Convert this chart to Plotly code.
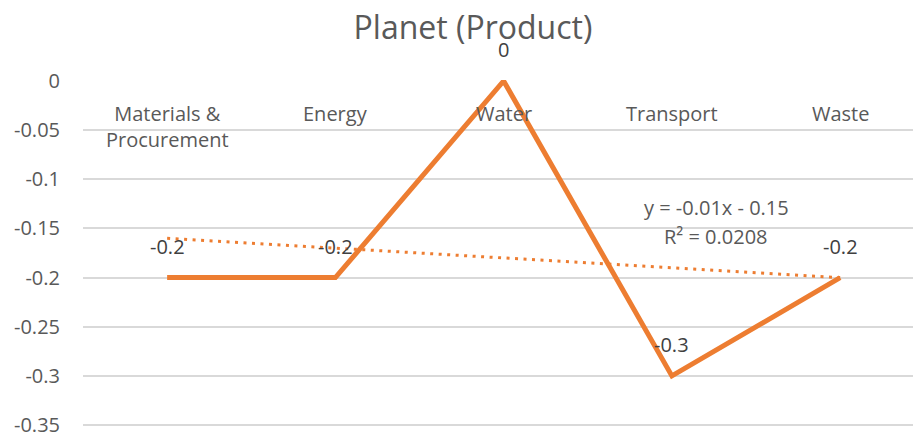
import numpy as np
import plotly.graph_objects as go

# Chart data
categories = ["Materials &<br>Procurement", "Energy", "Water", "Transport", "Waste"]
values = [-0.2, -0.2, 0, -0.3, -0.2]
y_tickvals = [0, -0.05, -0.1, -0.15, -0.2, -0.25, -0.3, -0.35]
y_ticktext = ["0", "-0.05", "-0.1", "-0.15", "-0.2", "-0.25", "-0.3", "-0.35"]

ORANGE = "#ED7D31"
GRID = "#D9D9D9"
AXIS_TXT = "#595959"
LABEL_TXT = "#404040"
FONT = "Open Sans"

xs = list(range(len(values)))

# Linear trend (Excel numbering x = 1..n)
xn = np.arange(1, len(values) + 1)
slope, intercept = np.polyfit(xn, values, 1)
fit = slope * xn + intercept
ss_res = float(np.sum((np.array(values) - fit) ** 2))
ss_tot = float(np.sum((np.array(values) - np.mean(values)) ** 2))
r2 = 1 - ss_res / ss_tot

fig = go.Figure()

fig.add_trace(go.Scatter(
    x=xs, y=fit, mode="lines",
    line=dict(color=ORANGE, width=3, dash="3px,5.5px"),
    hoverinfo="skip", showlegend=False,
))
fig.add_trace(go.Scatter(
    x=xs, y=values, mode="lines",
    line=dict(color=ORANGE, width=5),
    cliponaxis=False, showlegend=False,
))

annotations = []
# Category labels just below the zero line
for i, c in enumerate(categories):
    annotations.append(dict(
        x=i, y=0, xref="x", yref="y", text=c, showarrow=False,
        xanchor="center", yanchor="top", yshift=-17,
        font=dict(family=FONT, size=20, color=AXIS_TXT),
    ))
# Value labels above each point
for i, v in enumerate(values):
    annotations.append(dict(
        x=i, y=v, xref="x", yref="y", text=f"{v:g}", showarrow=False,
        xanchor="center", yanchor="middle", yshift=31,
        font=dict(family=FONT, size=20, color=LABEL_TXT),
    ))
# Trendline equation, one annotation per line
sign = "-" if intercept < 0 else "+"
eq_lines = [f"y = {slope:.2f}x {sign} {abs(intercept):.2f}", f"R² = {r2:.4f}"]
for k, line in enumerate(eq_lines):
    annotations.append(dict(
        x=3.263, y=-0.1431, xref="x", yref="y", text=line, showarrow=False,
        xanchor="center", yanchor="middle", yshift=14.5 - 29 * k,
        font=dict(family=FONT, size=20, color=AXIS_TXT),
    ))

fig.update_layout(
    width=913, height=438,
    margin=dict(l=83, r=0, t=80, b=6),
    paper_bgcolor="white", plot_bgcolor="white",
    title=dict(
        text="Planet (Product)", x=473 / 913, xanchor="center",
        y=1 - 28 / 438, yanchor="middle",
        font=dict(family=FONT, size=32, color=AXIS_TXT),
    ),
    xaxis=dict(
        range=[-0.5, 4.433], showgrid=False, showticklabels=False,
        zeroline=False, showline=False, fixedrange=True,
    ),
    yaxis=dict(
        range=[-0.355, 0.001], tickvals=y_tickvals, ticktext=y_ticktext,
        showgrid=True, gridcolor=GRID, gridwidth=1.5, zeroline=False,
        showline=False, ticks="", ticklabelstandoff=22,
        ticklabeloverflow="allow",
        tickfont=dict(family=FONT, size=20, color=AXIS_TXT),
        fixedrange=True,
    ),
    annotations=annotations,
)

fig.write_html("out.html")
